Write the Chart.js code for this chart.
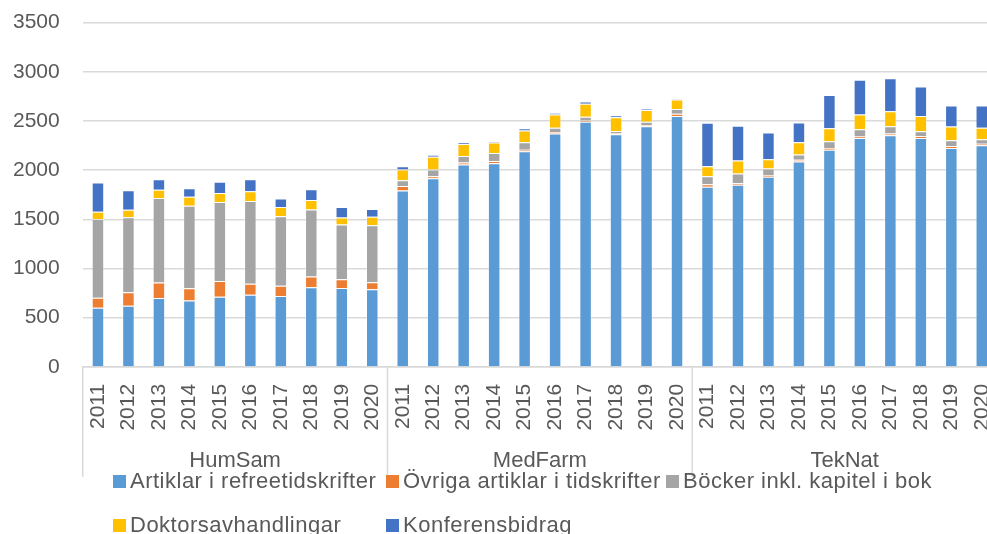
<!DOCTYPE html>
<html>
<head>
<meta charset="utf-8">
<script src="https://cdn.jsdelivr.net/npm/chart.js@4.4.1/dist/chart.umd.min.js"></script>
<style>
  html, body { margin: 0; padding: 0; background: #fff; overflow: hidden; }
  #wrap { position: absolute; left: -22px; top: -13px; width: 1038px; height: 493px; }
  #legend {
    position: absolute; left: 113px; top: 469px;
    display: grid; grid-template-columns: 273px 280px auto; row-gap: 20px;
    font-family: "Liberation Sans", Arial, sans-serif; font-size: 22px;
    letter-spacing: 0.5px; color: #595959;
  }
  #legend .item { display: flex; align-items: center; height: 24px; white-space: nowrap; }
  #legend .box { width: 13px; height: 13px; margin-right: 4px; flex: none; }
</style>
</head>
<body>
<div id="wrap"><canvas id="chartCanvas"></canvas></div>
<div id="legend"></div>
<script>
const groups = ['HumSam', 'MedFarm', 'TekNat'];
const years = ['2011', '2012', '2013', '2014', '2015', '2016', '2017', '2018', '2019', '2020'];

const seriesNames = [
  'Artiklar i refreetidskrifter',
  'Övriga artiklar i tidskrifter',
  'Böcker inkl. kapitel i bok',
  'Doktorsavhandlingar',
  'Konferensbidrag'
];
const seriesColors = ['#5B9BD5', '#ED7D31', '#A5A5A5', '#FFC000', '#4472C4'];

// per grupp: HumSam 2011-2020, MedFarm 2011-2020, TekNat 2011-2020
const artiklar = [
  600, 621, 700, 676, 713, 734, 720, 809, 802, 788,
  1794, 1917, 2058, 2071, 2191, 2372, 2492, 2365, 2447, 2550,
  1832, 1852, 1934, 2088, 2208, 2328, 2355, 2328, 2225, 2252
];
const ovriga = [
  103, 137, 157, 123, 161, 112, 106, 109, 89, 72,
  45, 21, 20, 21, 17, 17, 13, 10, 10, 24,
  24, 14, 17, 17, 17, 13, 17, 20, 21, 17
];
const bocker = [
  800, 764, 860, 839, 802, 840, 706, 683, 556, 580,
  58, 68, 65, 82, 75, 41, 38, 24, 35, 47,
  82, 99, 66, 55, 68, 75, 75, 48, 58, 45
];
const doktors = [
  75, 75, 85, 92, 92, 99, 93, 95, 72, 86,
  109, 130, 123, 106, 120, 137, 133, 140, 119, 96,
  102, 134, 95, 123, 134, 151, 151, 154, 140, 116
];
const konferens = [
  297, 198, 106, 86, 113, 123, 88, 109, 106, 78,
  34, 21, 17, 13, 24, 13, 21, 18, 10, 10,
  441, 352, 270, 202, 338, 352, 335, 301, 212, 226
];
const yTicks = [0, 500, 1000, 1500, 2000, 2500, 3000, 3500];

const seriesData = [artiklar, ovriga, bocker, doktors, konferens];
const labels = groups.flatMap(() => years);

const textColor = '#595959';
const gridColor = '#D9D9D9';
const fontFamily = '"Liberation Sans", Arial, sans-serif';

// skiljelinjer mellan grupperna under x-axeln
const groupLines = {
  id: 'groupLines',
  afterDraw(chart) {
    const x = chart.scales.x;
    const ctx = chart.ctx;
    const top = x.top;
    const bottom = x.top + 110;
    ctx.save();
    ctx.strokeStyle = gridColor;
    ctx.lineWidth = 1.5;
    for (let g = 0; g <= groups.length; g++) {
      const i = g * years.length;
      let px;
      if (i === 0) px = x.left;
      else if (i >= labels.length) px = x.right;
      else px = (x.getPixelForTick(i - 1) + x.getPixelForTick(i)) / 2;
      ctx.beginPath();
      ctx.moveTo(px, top);
      ctx.lineTo(px, bottom);
      ctx.stroke();
    }
    ctx.restore();
  }
};

function initChart() {
  const ctx = document.getElementById('chartCanvas').getContext('2d');
  new Chart(ctx, {
    type: 'bar',
    data: {
      labels,
      datasets: seriesNames.map((name, i) => ({
        label: name,
        data: seriesData[i],
        backgroundColor: seriesColors[i],
        borderColor: 'rgba(255,255,255,0.3)',
        borderWidth: 1,
        categoryPercentage: 1,
        barPercentage: 0.41
      }))
    },
    options: {
      responsive: true,
      maintainAspectRatio: false,
      animation: false,
      layout: { padding: { left: 12, top: 1, right: 0, bottom: 6 } },
      plugins: {
        legend: { display: false },
        tooltip: { enabled: false }
      },
      scales: {
        x: {
          stacked: true,
          weight: 0,
          grid: { display: false },
          border: { display: true, color: gridColor, width: 1.5 },
          ticks: {
            color: textColor,
            font: { family: fontFamily, size: 21 },
            minRotation: 90,
            maxRotation: 90,
            autoSkip: false,
            padding: 9
          }
        },
        x2: {
          type: 'category',
          position: 'bottom',
          labels: groups,
          offset: true,
          weight: 1,
          grid: { display: false },
          border: { display: false },
          ticks: {
            color: textColor,
            font: { family: fontFamily, size: 22 },
            padding: 0
          }
        },
        y: {
          stacked: true,
          min: 0,
          max: 3500,
          afterBuildTicks: scale => {
            scale.ticks = yTicks.map(v => ({ value: v }));
          },
          grid: { color: gridColor, lineWidth: 1.5, drawTicks: false },
          border: { display: false },
          ticks: {
            color: textColor,
            font: { family: fontFamily, size: 21 },
            padding: 23,
            callback: value => String(value)
          }
        }
      }
    },
    plugins: [groupLines]
  });

  const legend = document.getElementById('legend');
  seriesNames.forEach((name, i) => {
    const item = document.createElement('div');
    item.className = 'item';
    const box = document.createElement('span');
    box.className = 'box';
    box.style.background = seriesColors[i];
    const txt = document.createElement('span');
    txt.textContent = name;
    item.appendChild(box);
    item.appendChild(txt);
    legend.appendChild(item);
  });
}

window.addEventListener('load', initChart);
</script>
</body>
</html>
